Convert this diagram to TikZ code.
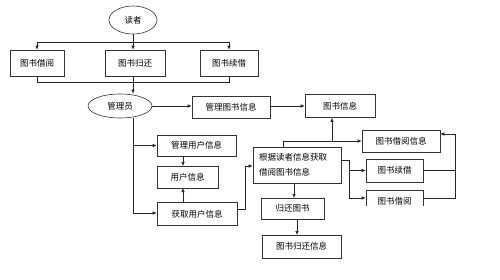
\documentclass[tikz,border=0pt]{standalone}
\usepackage{fontspec}
\setmainfont{Noto Sans CJK SC}
\usetikzlibrary{arrows.meta,shapes.geometric}
\tikzset{
  box/.style={draw=black!80,line width=0.6pt,fill=white,inner sep=0pt,font=\fontsize{8.5}{10}\selectfont,align=center},
  oval/.style={ellipse,draw=black!80,line width=0.6pt,fill=white,inner sep=0pt,font=\fontsize{8.5}{10}\selectfont},
  ln/.style={draw=black!85,line width=0.6pt},
  ar/.style={ln,-{Latex[length=4pt,width=3.5pt]}}
}
\begin{document}
\begin{tikzpicture}[x=1pt,y=-1pt]
\useasboundingbox (0,0) rectangle (500,279);
% nodes
\node[oval,minimum width=48pt,minimum height=28pt] (reader) at (133,20) {读者};
\node[box,minimum width=54pt,minimum height=26pt] (jy) at (37,63) {图书借阅};
\node[box,minimum width=60pt,minimum height=26pt] (gh) at (135,63) {图书归还};
\node[box,minimum width=58pt,minimum height=26pt] (xj) at (229,63) {图书续借};
\node[oval,minimum width=64pt,minimum height=24pt] (admin) at (120,106) {管理员};
\node[box,minimum width=78pt,minimum height=22pt] (glts) at (231,107) {管理图书信息};
\node[box,minimum width=70pt,minimum height=23pt] (tsxx) at (340,106) {图书信息};
\node[box,minimum width=79pt,minimum height=21pt] (glyh) at (196.5,145.5) {管理用户信息};
\node[box,minimum width=61pt,minimum height=22pt] (yhxx) at (187.5,177) {用户信息};
\node[box,minimum width=80pt,minimum height=23pt] (hqyh) at (197,214) {获取用户信息};
\node[box,minimum width=88pt,minimum height=36pt,align=left,text width=76pt,font=\fontsize{8.5}{15}\selectfont] (gj) at (297,165) {根据读者信息获取\\借阅图书信息};
\node[box,minimum width=78pt,minimum height=22pt] (jyxx) at (401,141) {图书借阅信息};
\node[box,minimum width=57pt,minimum height=23pt] (xjb) at (394.5,170.5) {图书续借};
\node[box,minimum width=63pt,minimum height=21pt] (ghts) at (292.5,208.5) {归还图书};
\node[box,minimum width=79pt,minimum height=23pt] (ghxx) at (301.5,246.5) {图书归还信息};
% clipped bottom box
\begin{scope}
\clip (360,186) rectangle (430,205);
\node[box,minimum width=57pt,minimum height=23pt] (jyb2) at (394.5,201.5) {图书借阅};
\end{scope}
% coordinates
\coordinate (t1) at (37,42);
\coordinate (t3) at (229,42);
\coordinate (u1) at (37,82);
\coordinate (u3) at (229,82);
\coordinate (v) at (133,213);
\coordinate (w1) at (245,209);
\coordinate (w2) at (245,166);
\coordinate (g1) at (283,141);
\coordinate (g2) at (332,141);
\coordinate (h1) at (349,160);
\coordinate (h2) at (349,198);
\coordinate (r1) at (455,134);
\coordinate (r2) at (455,198);
\coordinate (r3) at (455,170.5);
% reader connectors
\draw[ln] (reader.south) -- (reader.south |- t1);
\draw[ln] (t1) -- (t3);
\draw[ar] (t1) -- (jy.north);
\draw[ar] (reader.south |- t1) -- (reader.south |- gh.north);
\draw[ar] (t3) -- (xj.north);
\draw[ln] (jy.south) -- (u1) -- (u3) -- (xj.south);
\draw[ar] (gh.south -| reader.south) -- (reader.south |- admin.north);
% admin connectors
\draw[ar] (admin.east) -- (admin.east -| glts.west);
\draw[ar] (glts.east |- tsxx.west) -- (tsxx.west);
\draw[ln] (reader.south |- admin.south) -- (v);
\draw[ar] (reader.south |- glyh.west) -- (glyh.west);
\draw[ar] (v) -- (v -| hqyh.west);
\draw[ar] (183,156) -- (183,166);
\draw[ar] (183,202.5) -- (183,188);
\draw[ln] (hqyh.east |- w1) -- (w1) -- (w2);
\draw[ar] (w2) -- (w2 -| gj.west);
% gj connectors
\draw[ln] (gj.north -| g1) -- (g1) -- (g2);
\draw[ar] (g2) -- (jyxx.west |- g2);
\draw[ar] (g2) -- (g2 |- tsxx.south);
\draw[ln] (gj.east |- h1) -- (h1) -- (h2);
\draw[ar] (h1 |- xjb.west) -- (xjb.west);
\draw[ar] (h2) -- (h2 -| jyb2.west);
\draw[ln] (xjb.east) -- (r3);
\draw[ln] (jyb2.east |- r2) -- (r2) -- (r1);
\draw[ar] (r1) -- (r1 -| jyxx.east);
\draw[ar] (294,183) -- (294,198);
\draw[ar] (297,219) -- (297,235);
\end{tikzpicture}
\end{document}
